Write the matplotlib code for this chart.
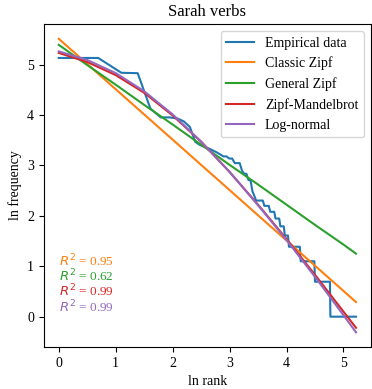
import numpy as np
import matplotlib
matplotlib.use("Agg")
import matplotlib.pyplot as plt

plt.rcParams['font.family'] = ['Liberation Serif', 'DejaVu Serif']
plt.rcParams['font.size'] = 10

# frequencies of the top ranked verbs (rank 1..31)
top_freqs = [169, 169, 126, 125, 62, 52, 52, 51, 48, 43, 32, 30, 29, 28, 27,
             26, 25, 24, 24, 23, 23, 21, 21, 21, 18, 17, 17, 15, 15, 12, 11]
# tail: how many verbs share each low frequency
tail_freqs = [10, 9, 8, 7, 6, 5, 4, 3, 2, 1]
tail_counts = [5, 4, 4, 4, 4, 4, 13, 20, 28, 68]

fit_x = [0, 0.5, 1, 1.5, 2, 2.5, 3, 3.5, 4, 4.5, 5, 5.22]
classic_zipf = [5.51, 5.01, 4.51, 4.01, 3.51, 3.01, 2.51, 2.01, 1.51, 1.01, 0.51, 0.29]
general_zipf = [5.39, 4.99, 4.60, 4.20, 3.81, 3.41, 3.01, 2.62, 2.22, 1.82, 1.43, 1.25]
zipf_mandelbrot = [5.23, 5.05, 4.79, 4.44, 3.99, 3.47, 2.87, 2.22, 1.54, 0.83, 0.10, -0.22]
log_normal = [5.26, 5.09, 4.83, 4.47, 4.01, 3.47, 2.87, 2.21, 1.52, 0.79, 0.03, -0.31]

r2_labels = ['0.95', '0.62', '0.99', '0.99']
r2_colors = ['tab:orange', 'tab:green', 'tab:red', 'tab:purple']

freqs = top_freqs + [f for f, c in zip(tail_freqs, tail_counts) for _ in range(c)]
ranks = np.arange(1, len(freqs) + 1)

fig = plt.figure(figsize=(3.72, 3.89), dpi=100)
ax = fig.add_axes([0.118, 0.108, 0.879, 0.83])

ax.plot(np.log(ranks), np.log(freqs), color='tab:blue', lw=1.5, label='Empirical data')
ax.plot(fit_x, classic_zipf, color='tab:orange', lw=1.5, label='Classic Zipf')
ax.plot(fit_x, general_zipf, color='tab:green', lw=1.5, label='General Zipf')
ax.plot(fit_x, zipf_mandelbrot, color='tab:red', lw=1.5, label='Zipf-Mandelbrot')
ax.plot(fit_x, log_normal, color='tab:purple', lw=1.5, label='Log-normal')

for i, (lab, col) in enumerate(zip(r2_labels, r2_colors)):
    ax.text(0.045, 0.266 - i * 0.047, '$R^2$ = ' + lab, color=col,
            transform=ax.transAxes, va='center', ha='left', fontsize=9.5)

ax.set_title('Sarah verbs', fontsize=12)
ax.set_xlabel('ln rank')
ax.set_ylabel('ln frequency')
ax.legend(loc='upper right')

fig.savefig('out.png', dpi=100)
